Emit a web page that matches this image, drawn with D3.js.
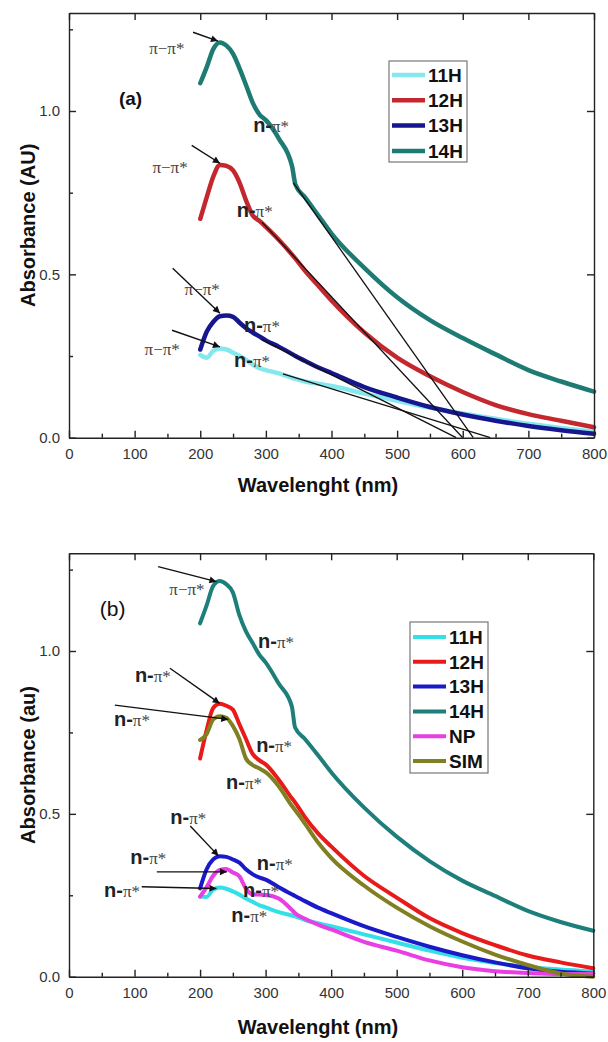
<!DOCTYPE html>
<html><head><meta charset="utf-8">
<script src="https://cdn.jsdelivr.net/npm/d3@7"></script>
<style>
body{margin:0;background:#fff;}
svg{display:block;}
.tick text{font-family:"Liberation Sans",Arial,sans-serif;font-size:15px;fill:#333;}
.domain,.tick line{stroke:#222;stroke-width:1.4px;}
</style></head>
<body>
<svg id="c" width="608" height="1042"></svg>
<script>
// ---------- DATA ----------
const wavelengths = [200,210,220,230,240,250,260,270,280,290,300,320,340,345,360,380,400,450,500,550,600,650,700,750,800];

// Panel (a)
const a11H = [0.253,0.245,0.266,0.273,0.270,0.260,0.250,0.238,0.224,0.213,0.207,0.197,0.183,0.180,0.172,0.165,0.158,0.135,0.113,0.092,0.074,0.058,0.043,0.030,0.018];
const a12H = [0.670,0.737,0.800,0.835,0.832,0.818,0.780,0.725,0.680,0.664,0.645,0.605,0.560,0.548,0.510,0.465,0.420,0.322,0.245,0.188,0.140,0.100,0.072,0.052,0.032];
const a13H = [0.270,0.325,0.355,0.372,0.374,0.370,0.352,0.335,0.322,0.310,0.298,0.278,0.256,0.250,0.235,0.215,0.198,0.155,0.123,0.094,0.071,0.052,0.036,0.023,0.012];
const a14H = [1.085,1.135,1.190,1.210,1.200,1.175,1.130,1.078,1.025,0.990,0.972,0.915,0.830,0.775,0.735,0.680,0.625,0.520,0.430,0.360,0.305,0.255,0.207,0.172,0.141];

// Panel (b)
const b11H = [0.246,0.245,0.268,0.274,0.270,0.262,0.252,0.240,0.230,0.220,0.213,0.198,0.188,0.185,0.174,0.164,0.155,0.130,0.105,0.080,0.058,0.042,0.030,0.022,0.016];
const b12H = [0.670,0.757,0.825,0.838,0.832,0.820,0.775,0.730,0.685,0.665,0.652,0.605,0.548,0.535,0.490,0.440,0.400,0.310,0.243,0.180,0.134,0.097,0.065,0.044,0.026];
const b13H = [0.271,0.330,0.360,0.370,0.368,0.360,0.350,0.330,0.315,0.305,0.298,0.275,0.253,0.248,0.232,0.212,0.195,0.155,0.122,0.092,0.066,0.044,0.026,0.015,0.010];
const b14H = [1.085,1.140,1.200,1.215,1.205,1.180,1.110,1.060,1.025,0.990,0.965,0.900,0.830,0.765,0.730,0.680,0.628,0.520,0.430,0.355,0.295,0.248,0.202,0.168,0.141];
const bNP  = [0.246,0.275,0.310,0.328,0.331,0.320,0.308,0.270,0.253,0.252,0.251,0.240,0.205,0.195,0.178,0.160,0.145,0.107,0.080,0.050,0.029,0.017,0.011,0.008,0.010];
const bSIM = [0.727,0.745,0.790,0.800,0.795,0.770,0.730,0.670,0.650,0.640,0.628,0.585,0.525,0.512,0.470,0.412,0.365,0.280,0.212,0.155,0.108,0.068,0.036,0.010,0.000];

const seriesNamesA = ["11H","12H","13H","14H"];
const seriesNamesB = ["11H","12H","13H","14H","NP","SIM"];

// tangent lines of panel (a): [wl1, A1, wl2, A2]
const tangentsA = [[342,0.78,616,0],[294,0.66,600,0],[294,0.30,590,0],[326,0.195,642,0]];

// arrows [wlFrom, AFrom, wlTo, ATo]
const arrowsA = [[189,1.241,227,1.214],[187,0.895,230,0.840],[158,0.519,230,0.381],[157,0.329,230,0.278]];
const arrowsB = [[136,1.259,225,1.213],[154,0.947,230,0.839],[70,0.834,243,0.790],[185,0.463,228,0.371],[134,0.322,241,0.322],[111,0.276,225,0.271]];

// labels [wl, A, kind]  kind: "pp" = π−π*, "np" = n-π*
const labelsA = [[149,1.176,"pp"],[154,0.809,"pp"],[203,0.436,"pp"],[142,0.253,"pp"],
                 [308,0.935,"np"],[283,0.675,"np"],[294,0.323,"np"],[279,0.216,"np"]];
const labelsB = [[180,1.171,"pp"],[128,0.905,"np"],[96,0.770,"np"],[182,0.469,"np"],[121,0.346,"np"],[81,0.245,"np"],
                 [316,1.009,"np"],[313,0.690,"np"],[267,0.576,"np"],[314,0.328,"np"],[293,0.245,"np"],[275,0.168,"np"]];

const xTicks = [0,100,200,300,400,500,600,700,800];
const xMinor = [50,150,250,350,450,550,650,750];
const yTicks = [0,0.5,1.0];
const yMinor = [0.25,0.75,1.25];

// ---------- DRAW ----------
const svg = d3.select("#c");
const defs = svg.append("defs");
defs.append("marker").attr("id","ah").attr("viewBox","0 0 10 10").attr("refX",10).attr("refY",5)
  .attr("markerWidth",10).attr("markerHeight",7).attr("markerUnits","userSpaceOnUse").attr("orient","auto")
  .append("path").attr("d","M0,0L10,5L0,10Z").attr("fill","#111");

function panel(cfg){
  const x = d3.scaleLinear().domain([0,800]).range([cfg.left,cfg.right]);
  const y = d3.scaleLinear().domain([0,1.3]).range([cfg.bottom,cfg.top]);
  const g = svg.append("g");

  const line = d3.line().x((d,i)=>x(wavelengths[i])).y(d=>y(d)).curve(d3.curveMonotoneX);
  cfg.series.forEach((s,i)=>{
    g.append("path").datum(s).attr("d",line).attr("fill","none")
     .attr("stroke",cfg.colors[i]).attr("stroke-width",cfg.lw).attr("stroke-linejoin","round").attr("stroke-linecap","round");
  });

  (cfg.tangents||[]).forEach(t=>{
    g.append("line").attr("x1",x(t[0])).attr("y1",y(t[1])).attr("x2",x(t[2])).attr("y2",y(t[3]))
     .attr("stroke","#111").attr("stroke-width",1.3);
  });

  cfg.arrows.forEach(t=>{
    g.append("line").attr("x1",x(t[0])).attr("y1",y(t[1])).attr("x2",x(t[2])).attr("y2",y(t[3]))
     .attr("stroke","#111").attr("stroke-width",1.4).attr("marker-end","url(#ah)");
  });

  cfg.labels.forEach(l=>{
    const t = g.append("text").attr("x",x(l[0])).attr("y",y(l[1])).attr("text-anchor","middle").attr("fill","#333");
    if(l[2]==="pp"){
      t.attr("font-family","'Liberation Serif','Times New Roman',serif").attr("font-size",17).attr("fill","#444").text("π−π*");
    } else {
      t.append("tspan").attr("font-family","'Liberation Sans',Arial,sans-serif").attr("font-weight","bold").attr("font-size",20).attr("fill","#222").text("n-");
      t.append("tspan").attr("font-family","'Liberation Serif','Times New Roman',serif").attr("font-size",17).attr("fill","#444").text("π*");
    }
  });

  // axes
  g.append("g").attr("transform",`translate(0,${cfg.bottom})`)
    .call(d3.axisBottom(x).tickValues(xTicks).tickSizeInner(-7).tickSizeOuter(0).tickPadding(11).tickFormat(d3.format("d")));
  g.append("g").attr("transform",`translate(0,${cfg.bottom})`)
    .call(d3.axisBottom(x).tickValues(xMinor).tickSizeInner(-4).tickSizeOuter(0).tickFormat(""))
    .select(".domain").remove();
  g.append("g").attr("transform",`translate(0,${cfg.top})`)
    .call(d3.axisTop(x).tickValues(xTicks).tickSizeInner(-7).tickSizeOuter(0).tickFormat(""));
  g.append("g").attr("transform",`translate(${cfg.left},0)`)
    .call(d3.axisLeft(y).tickValues(yTicks).tickSizeInner(-7).tickSizeOuter(0).tickPadding(9).tickFormat(d3.format(".1f")));
  g.append("g").attr("transform",`translate(${cfg.left},0)`)
    .call(d3.axisLeft(y).tickValues(yMinor).tickSizeInner(-4).tickSizeOuter(0).tickFormat(""))
    .select(".domain").remove();
  g.append("g").attr("transform",`translate(${cfg.right},0)`)
    .call(d3.axisRight(y).tickValues(yTicks).tickSizeInner(-7).tickSizeOuter(0).tickFormat(""));

  // titles
  g.append("text").attr("x",cfg.xTitleX).attr("y",cfg.xTitleY).attr("text-anchor","middle")
    .attr("font-family","'Liberation Sans',Arial,sans-serif").attr("font-weight","bold").attr("font-size",20).attr("fill","#111")
    .text("Wavelenght (nm)");
  g.append("text").attr("transform",`translate(35,${(cfg.top+cfg.bottom)/2}) rotate(-90)`).attr("text-anchor","middle")
    .attr("font-family","'Liberation Sans',Arial,sans-serif").attr("font-weight","bold").attr("font-size",20).attr("fill","#111")
    .text(cfg.yTitle);
  g.append("text").attr("x",x(cfg.tag[0])).attr("y",y(cfg.tag[1]))
    .attr("font-family","'Liberation Sans',Arial,sans-serif").attr("font-weight",cfg.tagBold?"bold":"normal").attr("font-size",cfg.tagSize).attr("fill","#111")
    .text(cfg.tag[2]);

  // legend
  const L = cfg.legend;
  const lg = g.append("g");
  lg.append("rect").attr("x",L.x).attr("y",L.y).attr("width",L.w).attr("height",L.h)
    .attr("fill","#fff").attr("stroke","#777").attr("stroke-width",1.2);
  cfg.names.forEach((n,i)=>{
    const yy = L.y + L.first + i*L.step;
    lg.append("line").attr("x1",L.x+3).attr("x2",L.x+36).attr("y1",yy).attr("y2",yy)
      .attr("stroke",cfg.colors[i]).attr("stroke-width",cfg.lw);
    lg.append("text").attr("x",L.x+39).attr("y",yy).attr("dy","0.36em")
      .attr("font-family","'Liberation Sans',Arial,sans-serif").attr("font-weight","bold").attr("font-size",19).attr("fill","#111").text(n);
  });
}

panel({
  left:69,right:594,top:13,bottom:437.7,
  series:[a11H,a12H,a13H,a14H], names:seriesNamesA,
  colors:["#86e8ef","#c3282e","#16168f","#1e7b74"], lw:4.5,
  tangents:tangentsA, arrows:arrowsA, labels:labelsA,
  xTitleX:318, xTitleY:492, yTitle:"Absorbance (AU)",
  tag:[76,1.018,"(a)"], tagBold:true, tagSize:19,
  legend:{x:389,y:61,w:78,h:101,first:14,step:25.3}
});
panel({
  left:69,right:593.3,top:553.3,bottom:976.7,
  series:[b11H,b12H,b13H,b14H,bNP,bSIM], names:seriesNamesB,
  colors:["#33e0e8","#e81a1a","#1a1ac8","#1e7f7a","#e83ee3","#808022"], lw:4,
  tangents:[], arrows:arrowsB, labels:labelsB,
  xTitleX:318, xTitleY:1034, yTitle:"Absorbance (au)",
  tag:[47,1.107,"(b)"], tagBold:false, tagSize:21,
  legend:{x:410,y:622,w:78,h:151,first:15,step:24.8}
});
</script>
</body></html>
